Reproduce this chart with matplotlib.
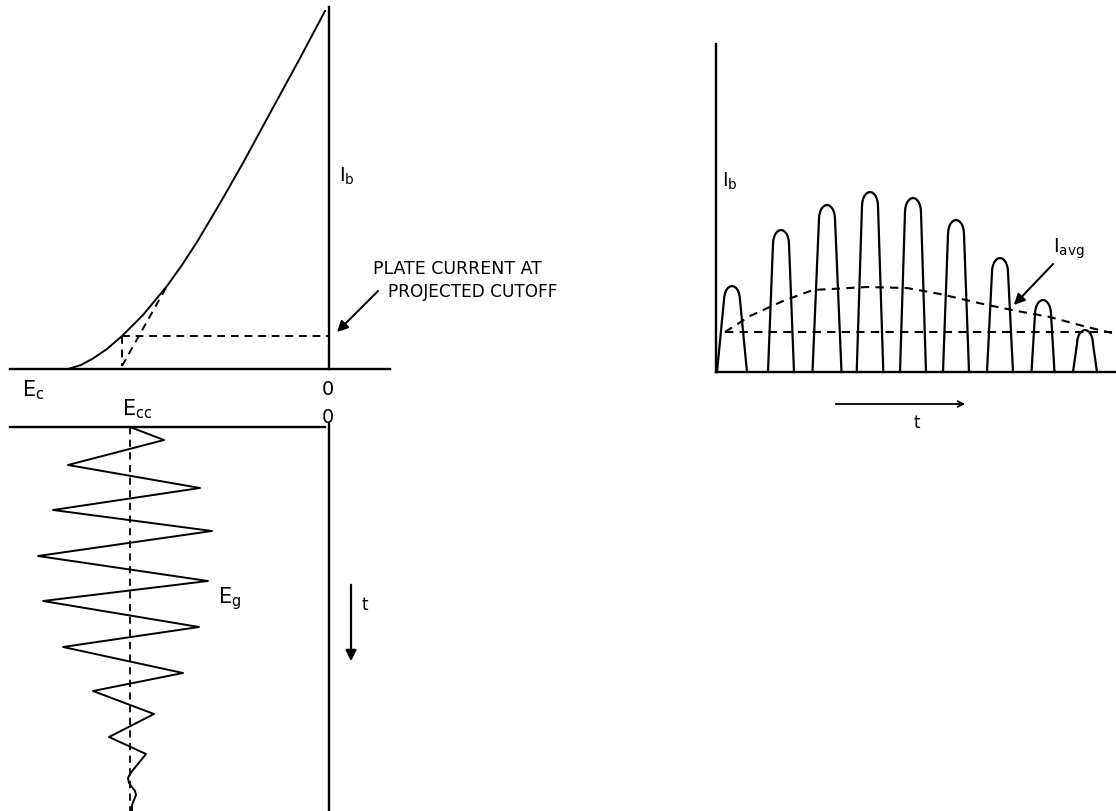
import matplotlib
matplotlib.use("Agg")
import matplotlib.pyplot as plt
import numpy as np

plt.rcParams["font.family"] = ["DejaVu Sans"]
plt.rcParams["mathtext.default"] = "regular"

W, H = 1116, 812

# --- transfer characteristic (grid volts vs plate current), origin at E_c = 0
curve_ec = [-261, -248, -236, -222, -207, -186, -162, -147, -132, -110, -86, -60, -30, -4]
curve_ib = [0, 4, 10.5, 20, 33, 54, 83, 104, 127, 164, 206, 254, 309, 358]
cutoff_ec = -207          # grid voltage at projected cutoff
cutoff_ib = 33            # plate current at projected cutoff
tangent_ec = [-207, -162]
tangent_ib = [3, 83]

# --- grid voltage wave (offset from E_cc) vs time, time increasing downward
grid_eg = [0, 34, -62, 70, -77, 82, -92, 78, -87, 69, -67, 53, -37, 24, -21, 16,
           3, 0, -2, -1, 2, 5, 6, 4, 2, 2]
grid_t = [0, 13, 38, 61, 83, 104, 129, 154, 174, 200, 220, 246, 264, 287, 310, 327,
          343, 347, 351, 356, 360, 364, 368, 373, 378, 384]

# --- plate current pulses vs time
pulse_center = [732, 781, 827, 870, 913, 956, 1000, 1043, 1085]
pulse_halfwidth = [15, 13, 14.5, 13.3, 13, 13, 13, 11.5, 12]
pulse_height = [86, 142, 167, 180, 174, 152, 114, 72, 42]
# rounded top of one pulse (offsets from the peak, px)
cap_dx = [0, 2.1, 4.0, 5.7, 6.9, 7.7, 8.0]
cap_dy = [0, 0.5, 1.9, 4.1, 7.0, 10.4, 14.0]

avg_t = [9, 34, 67, 97, 151, 191, 224, 267, 301, 334, 367, 396]
avg_ib = [40, 56, 71, 82, 85, 84, 78, 68, 61, 55, 46, 39]
dc_level = 40

fig = plt.figure(figsize=(W / 100, H / 100), dpi=100)


def panel(box, origin, flip=False):
    l, t, r, b = box
    ax = fig.add_axes([l / W, 1 - b / H, (r - l) / W, (b - t) / H])
    ox, oy = origin
    ax.set_xlim(l - ox, r - ox)
    if flip:
        ax.set_ylim(b - oy, t - oy)
    else:
        ax.set_ylim(oy - b, oy - t)
    ax.axis("off")
    return ax


k = "black"
dash = (0, (4, 3))

# ---------------- top left: transfer curve
a = panel((0, 0, 400, 400), (329, 370))
a.plot([-319, 61], [0, 0], color=k, lw=1.7)
a.plot([0, 0], [0, 362], color=k, lw=1.7)
a.plot(curve_ec, curve_ib, color=k, lw=1.4)
a.plot([cutoff_ec, 0], [cutoff_ib, cutoff_ib], color=k, lw=1.4, ls=dash)
a.plot([cutoff_ec, cutoff_ec], [cutoff_ib, 3], color=k, lw=1.4, ls=dash)
a.plot(tangent_ec, tangent_ib, color=k, lw=1.4, ls=dash)
a.text(10, 194, "I$_\\mathrm{b}$", fontsize=14, ha="left", va="center")
a.text(44, 96, "PLATE CURRENT AT", fontsize=12.5, ha="left", va="baseline")
a.text(59, 73, "PROJECTED CUTOFF", fontsize=12.2, ha="left", va="baseline")
a.annotate("", xy=(6, 35), xytext=(51, 80),
           arrowprops=dict(arrowstyle="-|>", color=k, lw=1.5, mutation_scale=16))
a.text(-307, -8, "E$_\\mathrm{c}$", fontsize=15, ha="left", va="top")
a.text(-1, -10, "0", fontsize=14, ha="center", va="top")

# ---------------- bottom left: grid voltage
g = panel((0, 400, 400, 812), (130, 428), flip=True)
g.plot([-120, 195], [0, 0], color=k, lw=1.7)
g.plot([199, 199], [-3, 384], color=k, lw=1.7)
g.plot([0, 0], [0, 384], color=k, lw=1.3, ls=dash)
g.plot(grid_eg, grid_t, color=k, lw=1.4)
g.text(-8, -13, "E$_\\mathrm{cc}$", fontsize=15, ha="left", va="baseline")
g.text(198, -5, "0", fontsize=14, ha="center", va="baseline")
g.text(88, 175, "E$_\\mathrm{g}$", fontsize=15, ha="left", va="baseline")
g.annotate("", xy=(221, 237), xytext=(221, 155),
           arrowprops=dict(arrowstyle="-|>", color=k, lw=1.6, mutation_scale=16))
g.text(235, 177, "t", fontsize=12, ha="center", va="center")

# ---------------- right: plate current pulses
p = panel((680, 20, 1116, 450), (716, 373))
p.plot([0, 0], [0, 328], color=k, lw=1.7)
p.plot([0, 400], [0, 0], color=k, lw=1.7)
dx = np.array(cap_dx)
dy = np.array(cap_dy)
for c, hw, h in zip(pulse_center, pulse_halfwidth, pulse_height):
    c = c - 716
    xs = np.concatenate([[c - hw], c - dx[::-1], c + dx[1:], [c + hw]])
    ys = np.concatenate([[0], h - dy[::-1], h - dy[1:], [0]])
    p.plot(xs, ys, color=k, lw=1.6)
p.plot(avg_t, avg_ib, color=k, lw=1.5, ls=dash)
p.plot([avg_t[0], avg_t[-1]], [dc_level, dc_level], color=k, lw=1.5, ls=dash)
p.text(6, 192, "I$_\\mathrm{b}$", fontsize=14, ha="left", va="center")
p.text(337, 124, "I$_\\mathrm{avg}$", fontsize=14, ha="left", va="center")
p.annotate("", xy=(296, 65), xytext=(339, 110),
           arrowprops=dict(arrowstyle="-|>", color=k, lw=1.5, mutation_scale=16))
p.annotate("", xy=(252, -32), xytext=(117, -32),
           arrowprops=dict(arrowstyle="->", color=k, lw=1.3, mutation_scale=10))
p.text(201, -50, "t", fontsize=12, ha="center", va="center")

fig.savefig("out.png", dpi=100)
